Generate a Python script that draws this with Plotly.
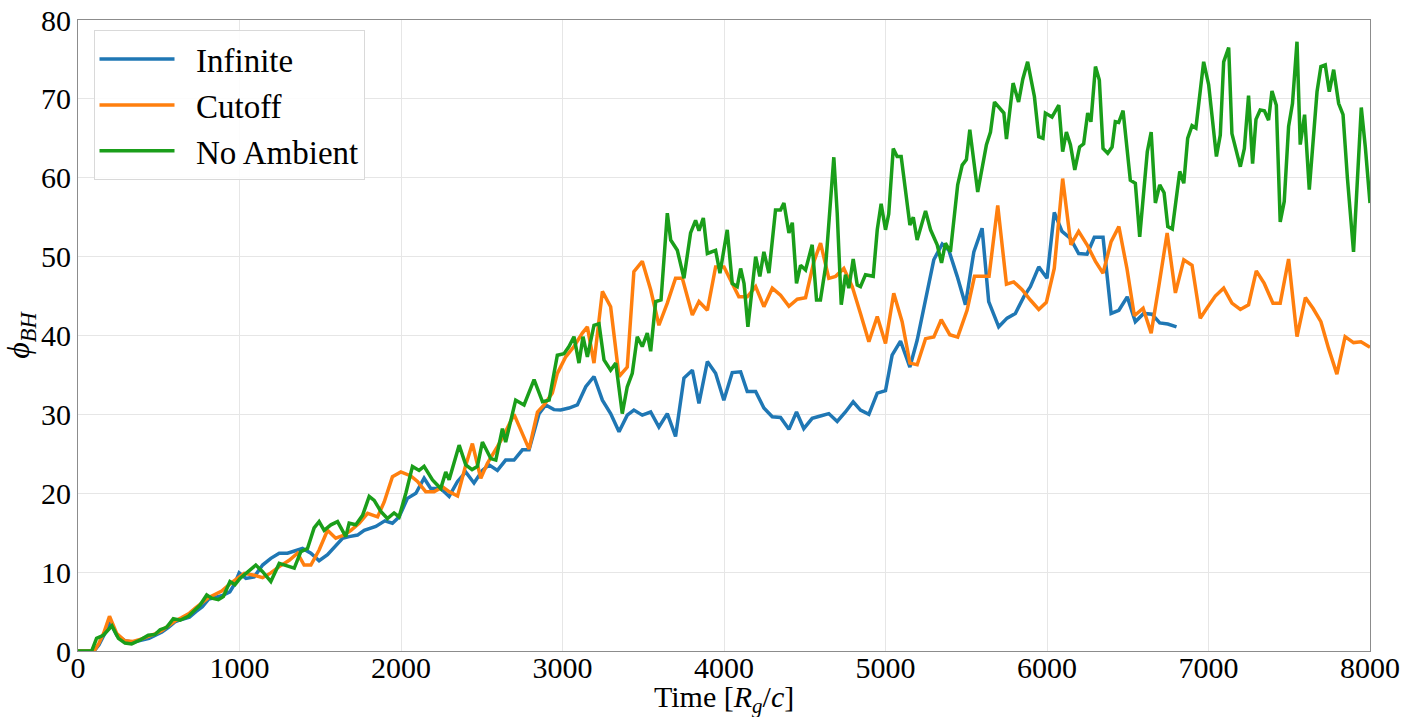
import plotly.graph_objects as go

# ---------------- data ----------------
infinite_t = [0, 100, 130, 160, 200, 240, 290, 340, 390, 440, 480, 520, 560, 600, 640, 690, 730, 770, 810, 850,
              890, 940, 970, 998, 1040, 1091, 1143, 1194, 1246, 1297, 1349, 1390, 1442, 1493, 1545, 1586, 1638,
              1679, 1731, 1772, 1844, 1900, 1947, 1988, 2040, 2092, 2143, 2184, 2246, 2298, 2350, 2401, 2452,
              2504, 2545, 2597, 2648, 2700, 2752, 2793, 2855, 2896, 2947, 2989, 3040, 3092, 3144, 3195, 3247,
              3298, 3350, 3401, 3442, 3494, 3546, 3597, 3649, 3700, 3752, 3804, 3845, 3897, 3948, 3999, 4051,
              4103, 4144, 4196, 4247, 4299, 4350, 4402, 4449, 4494, 4546, 4597, 4649, 4701, 4752, 4800, 4845,
              4897, 4949, 5000, 5041, 5093, 5151, 5196, 5248, 5299, 5351, 5392, 5444, 5495, 5547, 5598, 5639,
              5701, 5753, 5804, 5856, 5897, 5949, 6000, 6045, 6093, 6145, 6196, 6248, 6293, 6347, 6397, 6445,
              6497, 6547, 6599, 6650, 6698, 6748, 6802]
infinite_v = [0, 0, 0.8, 2.0, 3.6, 2.0, 1.3, 1.1, 1.4, 1.6, 2.0, 2.4, 3.0, 3.7, 4.0, 4.3, 5.0, 5.6, 6.6, 6.8,
              7.0, 7.5, 8.5, 9.9, 9.2, 9.4, 10.9, 11.75, 12.4, 12.4, 12.8, 13.0, 12.4, 11.45, 12.2, 13.2, 14.3,
              14.5, 14.7, 15.3, 15.8, 16.5, 16.2, 17.0, 19.35, 20.0, 21.9, 20.6, 20.6, 19.6, 21.5, 22.7, 21.3,
              22.9, 23.6, 22.9, 24.2, 24.2, 25.5, 25.5, 30.1, 31.2, 30.6, 30.55, 30.8, 31.2, 33.5, 34.8, 31.8,
              30.1, 27.8, 29.9, 30.55, 29.9, 30.3, 28.4, 30.1, 27.2, 34.6, 35.6, 31.4, 36.7, 35.2, 31.8, 35.3,
              35.4, 32.9, 32.9, 30.8, 29.7, 29.6, 28.1, 30.3, 28.2, 29.5, 29.8, 30.1, 29.1, 30.3, 31.6, 30.55,
              30.0, 32.7, 33.0, 37.5, 39.3, 36.0, 39.4, 44.5, 49.6, 51.6, 50.8, 47.5, 43.9, 50.6, 53.6, 44.3,
              41.1, 42.2, 42.8, 44.9, 46.2, 48.7, 47.25, 55.6, 53.2, 52.3, 50.4, 50.3, 52.45, 52.45, 42.8, 43.2,
              44.9, 41.75, 42.8, 42.7, 41.6, 41.45, 41.1]

cutoff_t = [0, 100, 130, 160, 195, 240, 290, 340, 390, 430, 480, 520, 560, 600, 640, 690, 730, 770, 810, 850,
            890, 947, 1029, 1091, 1143, 1194, 1246, 1308, 1359, 1400, 1442, 1493, 1545, 1596, 1648, 1690, 1741,
            1793, 1855, 1896, 1947, 1999, 2061, 2102, 2153, 2205, 2257, 2298, 2350, 2400, 2442, 2494, 2535,
            2597, 2638, 2700, 2752, 2793, 2845, 2886, 2937, 2968, 3020, 3071, 3123, 3154, 3195, 3247, 3298,
            3350, 3401, 3442, 3494, 3546, 3597, 3649, 3700, 3742, 3804, 3845, 3897, 3948, 4000, 4041, 4092,
            4144, 4196, 4247, 4299, 4350, 4402, 4454, 4505, 4557, 4598, 4649, 4691, 4742, 4794, 4845, 4897,
            4949, 5000, 5051, 5103, 5151, 5196, 5248, 5299, 5345, 5398, 5447, 5505, 5551, 5604, 5641, 5695,
            5749, 5794, 5846, 5897, 5949, 5996, 6045, 6097, 6148, 6196, 6248, 6300, 6347, 6397, 6445, 6495,
            6541, 6595, 6645, 6695, 6744, 6795, 6847, 6898, 6949, 6995, 7042, 7094, 7145, 7197, 7248, 7296,
            7345, 7399, 7444, 7496, 7548, 7600, 7647, 7696, 7743, 7795, 7846, 7898, 7944, 8000]
cutoff_v = [0, 0, 1.0, 2.3, 4.4, 2.2, 1.3, 1.2, 1.5, 1.8, 2.2, 2.6, 3.2, 3.8, 4.2, 4.8, 5.5, 6.2, 6.8, 7.2,
            7.6, 8.6, 9.85, 9.6, 9.3, 9.9, 10.7, 11.5, 12.4, 10.9, 10.9, 12.8, 15.3, 14.3, 14.7, 15.3, 16.2,
            17.45, 17.0, 18.9, 22.1, 22.7, 22.2, 21.5, 20.2, 20.2, 20.8, 20.2, 19.65, 23.5, 26.3, 21.9, 23.8,
            25.9, 27.4, 30.0, 27.6, 25.6, 30.3, 31.2, 32.7, 35.2, 37.3, 38.6, 40.3, 41.1, 36.5, 45.6, 43.65,
            34.8, 36.0, 48.1, 49.4, 45.8, 41.3, 44.1, 47.25, 47.25, 42.6, 44.3, 43.2, 48.7, 48.7, 47.0, 44.9,
            44.9, 46.2, 43.65, 46.0, 45.1, 43.7, 44.6, 44.8, 49.4, 51.7, 47.25, 47.5, 48.5, 46.2, 42.8, 39.2,
            42.4, 39.0, 45.35, 41.75, 36.5, 36.3, 39.6, 39.8, 42.0, 40.1, 39.8, 43.2, 47.5, 47.5, 47.5, 56.5,
            46.5, 46.8, 45.8, 44.5, 43.3, 44.2, 48.5, 59.9, 51.5, 53.2, 51.5, 49.4, 47.9, 51.9, 53.8, 48.5,
            42.5, 43.45, 40.3, 46.6, 53.0, 45.4, 49.6, 48.9, 42.2, 43.6, 45.0, 46.0, 44.1, 43.3, 43.9, 48.2,
            46.6, 44.1, 44.1, 49.7, 39.85, 44.8, 43.45, 41.75, 38.4, 35.1, 39.85, 39.1, 39.2, 38.5]

noamb_t = [0, 85, 115, 157, 210, 250, 291, 332, 384, 435, 477, 508, 549, 590, 632, 683, 714, 755, 797, 828,
           869, 900, 941, 972, 1003, 1050, 1101, 1143, 1194, 1246, 1290, 1339, 1380, 1421, 1462, 1493, 1524,
           1566, 1607, 1658, 1679, 1720, 1762, 1803, 1834, 1875, 1916, 1957, 1988, 2030, 2071, 2112, 2143,
           2195, 2246, 2277, 2298, 2360, 2401, 2440, 2473, 2504, 2556, 2587, 2628, 2648, 2710, 2762, 2824,
           2876, 2917, 2968, 3009, 3040, 3071, 3102, 3127, 3154, 3195, 3226, 3257, 3298, 3330, 3370, 3401,
           3432, 3463, 3494, 3525, 3546, 3577, 3610, 3649, 3670, 3711, 3752, 3793, 3824, 3845, 3872, 3897,
           3948, 3975, 4020, 4051, 4082, 4103, 4124, 4148, 4196, 4222, 4247, 4278, 4319, 4350, 4371, 4402,
           4423, 4449, 4474, 4505, 4546, 4573, 4597, 4629, 4680, 4701, 4726, 4752, 4773, 4800, 4825, 4845,
           4876, 4924, 4949, 4973, 5000, 5020, 5048, 5072, 5097, 5151, 5172, 5196, 5248, 5279, 5320, 5347,
           5371, 5402, 5447, 5475, 5501, 5522, 5571, 5625, 5650, 5675, 5733, 5749, 5790, 5824, 5850, 5880,
           5922, 5949, 5975, 5990, 6031, 6073, 6097, 6120, 6145, 6172, 6202, 6227, 6252, 6272, 6300, 6324,
           6347, 6376, 6403, 6423, 6444, 6471, 6516, 6547, 6574, 6621, 6645, 6671, 6698, 6725, 6748, 6776,
           6802, 6822, 6847, 6871, 6898, 6922, 6970, 7001, 7049, 7073, 7094, 7125, 7145, 7197, 7222, 7248,
           7273, 7294, 7320, 7346, 7372, 7393, 7420, 7444, 7469, 7496, 7520, 7548, 7568, 7595, 7624, 7672,
           7696, 7723, 7748, 7775, 7806, 7833, 7860, 7898, 7946, 7971, 8000]
noamb_v = [0, 0, 1.6, 2.0, 3.2, 1.6, 1.0, 0.9, 1.4, 2.0, 2.1, 2.7, 3.0, 4.1, 3.9, 4.4, 5.0, 5.8, 7.1, 6.7,
           6.5, 6.9, 8.8, 8.4, 9.2, 10.05, 10.9, 10.05, 8.8, 11.1, 10.8, 10.5, 12.6, 13.0, 15.6, 16.4, 15.3,
           16.0, 16.4, 14.5, 16.2, 16.0, 17.2, 19.6, 19.1, 17.7, 16.8, 17.5, 17.0, 20.0, 23.4, 22.9, 23.4,
           21.7, 20.6, 22.7, 21.7, 26.1, 23.6, 23.0, 23.4, 26.5, 24.4, 24.2, 28.2, 26.5, 31.8, 31.2, 34.4,
           31.6, 31.8, 37.5, 37.7, 38.6, 39.85, 36.5, 39.85, 37.3, 41.3, 41.5, 36.9, 35.6, 36.5, 30.1, 33.5,
           35.2, 39.85, 38.6, 40.3, 38.0, 44.3, 44.5, 55.5, 52.1, 50.8, 47.25, 53.0, 54.6, 53.3, 54.9, 50.4,
           50.8, 47.9, 53.4, 46.6, 46.2, 48.5, 46.6, 41.1, 50.0, 47.5, 50.6, 47.9, 55.9, 55.9, 56.8, 53.0,
           54.3, 46.6, 48.9, 48.3, 51.5, 44.5, 44.5, 48.7, 62.6, 55.5, 43.9, 47.7, 46.0, 49.7, 46.4, 46.2,
           47.7, 47.5, 53.4, 56.7, 53.4, 55.4, 63.7, 62.7, 62.7, 54.0, 55.0, 52.1, 55.8, 53.4, 51.5, 49.2,
           51.7, 50.6, 59.1, 61.6, 62.3, 66.1, 58.2, 64.2, 65.8, 69.6, 68.2, 64.9, 72.0, 69.6, 72.5, 74.7,
           70.3, 65.2, 65.0, 68.2, 67.7, 69.2, 63.3, 65.8, 64.2, 61.0, 63.9, 64.3, 68.2, 67.1, 74.1, 72.4,
           63.7, 63.1, 63.9, 67.1, 67.0, 68.5, 59.7, 59.3, 52.5, 63.3, 65.8, 56.8, 59.1, 58.1, 53.8, 53.5,
           57.6, 60.8, 59.3, 65.0, 66.6, 66.3, 74.7, 71.8, 62.7, 65.4, 74.7, 76.5, 65.6, 61.4, 63.7, 70.4,
           61.8, 67.4, 68.6, 68.5, 67.3, 71.0, 69.2, 54.4, 57.0, 66.5, 69.4, 77.25, 64.2, 68.0, 58.5, 70.9,
           74.1, 74.3, 70.9, 73.7, 69.4, 68.0, 60.0, 50.6, 68.9, 63.9, 56.8]

series_names = ["Infinite", "Cutoff", "No Ambient"]
series_colors = ["#1f77b4", "#ff7f0e", "#1a9e1a"]

x_ticks = [0, 1000, 2000, 3000, 4000, 5000, 6000, 7000, 8000]
y_ticks = [0, 10, 20, 30, 40, 50, 60, 70, 80]
x_title = "Time [<i>R<sub>g</sub></i>/<i>c</i>]"
y_title = "<i>ϕ<sub>BH</sub></i>"

FONT = "Liberation Serif"

fig = go.Figure()
for name, color, xs, ys in zip(series_names, series_colors,
                               [infinite_t, cutoff_t, noamb_t],
                               [infinite_v, cutoff_v, noamb_v]):
    fig.add_trace(go.Scatter(x=xs, y=ys, mode="lines", name="\u2002" + name, legendgroup=name,
                             line=dict(color=color, width=3.5)))

axis_common = dict(showgrid=True, gridcolor="#e6e6e6", gridwidth=1, zeroline=False,
                   showline=True, linecolor="#8c8c8c", linewidth=1.2, mirror=True,
                   ticks="", automargin=False,
                   tickfont=dict(family=FONT, size=30, color="black"))

fig.update_layout(
    width=1405, height=717,
    margin=dict(l=78, r=35, t=20, b=66),
    paper_bgcolor="white", plot_bgcolor="white",
    font=dict(family=FONT, color="black"),
    xaxis=dict(range=[0, 8000], tickvals=x_ticks, ticktext=[str(v) for v in x_ticks],
               ticklabelstandoff=-10, **axis_common),
    yaxis=dict(range=[0, 80], tickvals=y_ticks, ticktext=[str(v) for v in y_ticks],
               title=dict(text=y_title, font=dict(family=FONT, size=32), standoff=6),
               **axis_common),
    legend=dict(x=0.012, y=0.984, xanchor="left", yanchor="top",
                bgcolor="rgba(255,255,255,0.85)", bordercolor="#d9d9d9", borderwidth=1,
                font=dict(family=FONT, size=33), tracegroupgap=0, itemwidth=75),
    showlegend=True,
)

fig.add_annotation(text=x_title, xref="paper", yref="paper", x=0.5, y=-(699 - 651) / 631,
                   xanchor="center", yanchor="middle", showarrow=False,
                   font=dict(family=FONT, size=30, color="black"))

fig.write_html("out.html")
